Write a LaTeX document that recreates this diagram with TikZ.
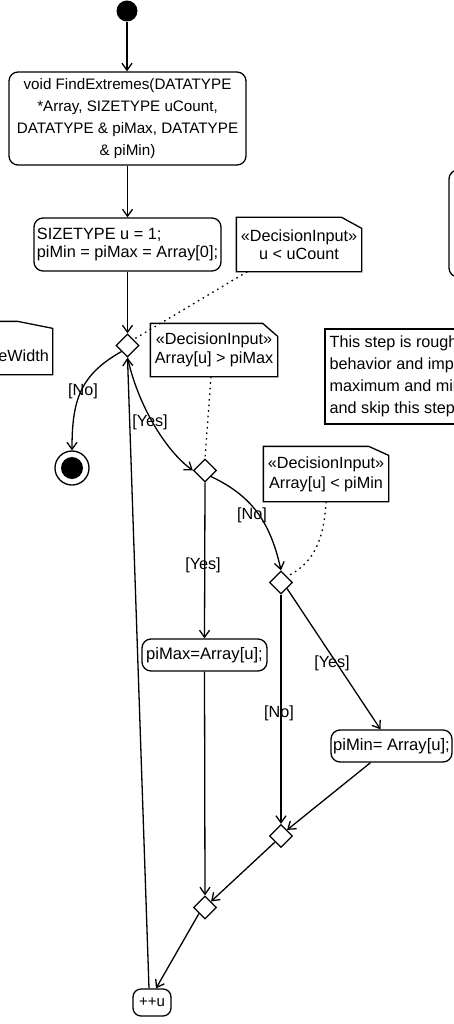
\documentclass[tikz,border=0pt]{standalone}
\usepackage{fontspec}
\setmainfont{Liberation Sans}
\usetikzlibrary{shapes.geometric,arrows.meta,calc}
\begin{document}
\begin{tikzpicture}[x=1pt,y=-1pt,line width=1.3pt,
  act/.style={draw,rounded corners=9pt,inner sep=0pt,align=center,font=\fontsize{16.6}{19}\selectfont},
  dec/.style={draw,diamond,minimum width=23pt,minimum height=23pt,inner sep=0pt},
  flow/.style={-{Straight Barb[length=7pt,width=10pt]}},
  notebody/.style={inner sep=0pt,align=center,font=\fontsize{16.2}{19}\selectfont},
  link/.style={dash pattern=on 1.6pt off 4pt,line width=1.3pt},
  lbl/.style={inner sep=0pt,font=\fontsize{16.2}{19}\selectfont},
  ]
\useasboundingbox (0,0) rectangle (454,1024);

% initial / final
\node[circle,fill,inner sep=0pt,minimum size=21pt] (init) at (127,11) {};
\node[circle,draw,inner sep=0pt,minimum size=34pt] (fin) at (72,468) {};
\node[circle,fill,inner sep=0pt,minimum size=22pt] (finin) at (72,468) {};

% actions
\node[act,minimum width=237pt,minimum height=93pt,font=\fontsize{15.2}{22}\selectfont] (b1) at (127.5,118.5)
  {void FindExtremes(DATATYPE\\*Array, SIZETYPE uCount,\\DATATYPE \& piMax, DATATYPE\\\& piMin)};
\node[act,align=left,minimum width=187pt,minimum height=53pt,font=\fontsize{16.3}{18}\selectfont] (b2) at (127.5,244.5)
  {SIZETYPE u = 1;\\piMin = piMax = Array[0];};
\node[act,minimum width=125pt,minimum height=32pt] (pmax) at (204.5,655) {piMax=Array[u];};
\node[act,minimum width=121pt,minimum height=32pt] (pmin) at (391.5,746) {piMin= Array[u];};
\node[act,minimum width=38pt,minimum height=27pt,rounded corners=8pt,font=\fontsize{15}{18}\selectfont] (inc) at (152,1002.5) {++u};

% decisions
\node[dec] (d1) at (127.5,345.5) {};
\node[dec] (d2) at (205,470.5) {};
\node[dec] (d3) at (281,582.5) {};
\node[dec] (d4) at (281,836) {};
\node[dec] (d5) at (205,907.5) {};

% notes
\node[notebody,minimum width=124pt,minimum height=53pt,font=\fontsize{16.2}{18}\selectfont] (n1) at (299,244.5) {«DecisionInput»\\u < uCount};
\draw (n1.south west) -- (n1.north west) -- ([xshift=-20pt]n1.north east) -- ([yshift=-11pt]n1.north east) -- (n1.south east) -- cycle;
\node[notebody,minimum width=126pt,minimum height=52pt] (n2) at (214,350) {«DecisionInput»\\Array[u] > piMax};
\draw (n2.south west) -- (n2.north west) -- ([xshift=-15pt]n2.north east) -- ([yshift=-13pt]n2.north east) -- (n2.south east) -- cycle;
\node[notebody,minimum width=124pt,minimum height=54pt,font=\fontsize{16.2}{20}\selectfont] (n3) at (326,474) {«DecisionInput»\\Array[u] < piMin};
\draw (n3.south west) -- (n3.north west) -- ([xshift=-20pt]n3.north east) -- ([yshift=-9pt]n3.north east) -- (n3.south east) -- cycle;
\node[notebody,minimum width=112pt,minimum height=52pt] (n4) at (-4,348) {};
\draw (n4.south west) -- (n4.north west) -- ([xshift=-35pt]n4.north east) -- ([yshift=-7pt]n4.north east) -- (n4.south east) -- cycle;
\node[lbl,anchor=east] (n4t) at (49.5,356) {reWidth};
\node[draw,inner sep=0pt,minimum width=200pt,minimum height=95pt] (n5) at (425,376.5) {};
\node[lbl,anchor=north west,align=left,font=\fontsize{16.2}{22}\selectfont] (n5t) at (329,335)
  {This step is roughly\\behavior and improves\\maximum and minimum\\and skip this step};
\node[draw,rounded corners=9pt,inner sep=0pt,minimum width=100pt,minimum height=107pt] (big) at (499,223.5) {};

% flows
\draw[flow] (init.south) -- (init.south |- b1.north);
\draw[flow] (b1.south) -- (b2.north);
\draw[flow] (b2.south) -- (d1.north);
\draw[flow] (d1.south west) .. controls (80,375) and (72,400) .. (fin.north);
\draw[flow] (d1.south) .. controls (138,405) and (165,450) .. (d2.west);
\draw[flow] ([xshift=-3pt]inc.north) -- (d1.south);
\draw[flow] (d2.south) -- (pmax.north);
\draw[flow] (d2.south east) .. controls (250,495) and (270,520) .. (d3.north);
\draw[flow] (d3.south east) -- ([xshift=-11pt]pmin.north);
\draw[flow] (d3.south) -- (d4.north);
\draw[flow] ([xshift=-21pt]pmin.south) -- (d4.north east);
\draw[flow] (pmax.south) -- (d5.north);
\draw[flow] (d4.south west) -- (d5.north east);
\draw[flow] (d5.south west) -- ([xshift=4pt]inc.north);

% dotted links
\draw[link] ([xshift=11pt]n1.south west) -- (d1.north east);
\draw[link] ([xshift=-3pt]n2.south) -- (d2.north);
\draw[link] (n3.south) .. controls (324,545) and (310,565) .. (d3.north east);

% guard labels
\node[lbl] (l1) at (83,391) {[No]};
\node[lbl] (l2) at (150,422) {[Yes]};
\node[lbl] (l3) at (203,565) {[Yes]};
\node[lbl] (l4) at (252,515) {[No]};
\node[lbl] (l5) at (332,663) {[Yes]};
\node[lbl] (l6) at (279,713) {[No]};
\end{tikzpicture}
\end{document}
